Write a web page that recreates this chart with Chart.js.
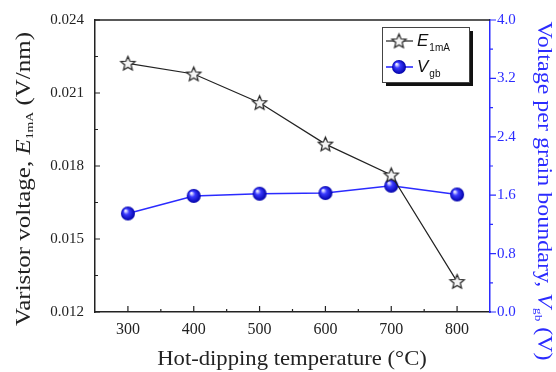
<!DOCTYPE html>
<html>
<head>
<meta charset="utf-8">
<script src="https://cdn.jsdelivr.net/npm/chart.js@4"></script>
<style>
  html, body { margin: 0; padding: 0; background: #fff; }
  #wrap { width: 556px; height: 372px; }
</style>
</head>
<body>
<div id="wrap"><canvas id="myChart" width="556" height="372"></canvas></div>
<script>
// data
const temps = [300, 400, 500, 600, 700, 800];
const e1mA = [0.02222, 0.02178, 0.0206, 0.0189, 0.01763, 0.01325];
const vgb = [1.35, 1.59, 1.62, 1.63, 1.73, 1.61];
const legendMain = ["E", "V"];
const legendSub = ["1mA", "gb"];

const BLUE = "#2b2bff";
const DARK = "#222";
const SERIF = "'Liberation Serif', 'Times New Roman', serif";
const SANS = "'Liberation Sans', Arial, sans-serif";

function makeStar(r) {
    const c = document.createElement("canvas");
    const s = Math.ceil(r * 2 + 4);
    c.width = s; c.height = s;
    const g = c.getContext("2d");
    g.translate(s / 2, s / 2 + 0.5);
    g.beginPath();
    for (let i = 0; i < 10; i++) {
        const rad = i % 2 === 0 ? r : r * 0.45;
        const a = -Math.PI / 2 + i * Math.PI / 5;
        g.lineTo(Math.cos(a) * rad, Math.sin(a) * rad);
    }
    g.closePath();
    g.fillStyle = "#f4f4f4";
    g.fill();
    g.lineWidth = 1.2;
    g.strokeStyle = DARK;
    g.stroke();
    return c;
}

function makeBall(r) {
    const c = document.createElement("canvas");
    const s = Math.ceil(r * 2 + 2);
    c.width = s; c.height = s;
    const g = c.getContext("2d");
    const cx = s / 2, cy = s / 2;
    const grad = g.createRadialGradient(cx - r * 0.35, cy - r * 0.4, r * 0.1, cx, cy, r);
    grad.addColorStop(0, "#e8e8ff");
    grad.addColorStop(0.35, "#3a3aff");
    grad.addColorStop(1, "#0000a8");
    g.beginPath();
    g.arc(cx, cy, r, 0, Math.PI * 2);
    g.fillStyle = grad;
    g.fill();
    return c;
}

const starImg = makeStar(7.5);
const ballImg = makeBall(7);

// draws text pieces in a row, centred on (0,0) of the current transform
function drawRich(g, parts, stretch) {
    g.scale(stretch || 1, 1);
    let total = 0;
    parts.forEach((p) => { g.font = p.font; p.w = g.measureText(p.t).width; total += p.w; });
    let x = -total / 2;
    parts.forEach((p) => {
        g.font = p.font;
        g.fillText(p.t, x, p.dy || 0);
        x += p.w;
    });
}

const decorPlugin = {
    id: "decor",
    afterDraw(chart) {
        const g = chart.ctx;
        const a = chart.chartArea;
        const xs = chart.scales.x, ys = chart.scales.y, y1 = chart.scales.y1;
        g.save();
        g.lineWidth = 1.5;
        // top border
        g.strokeStyle = DARK;
        g.beginPath();
        g.moveTo(a.left, a.top); g.lineTo(a.right, a.top);
        g.stroke();

        // tick marks
        g.lineWidth = 1.2;
        g.beginPath();
        for (let v = 300; v <= 800; v += 100) {
            const px = xs.getPixelForValue(v);
            g.moveTo(px, a.bottom); g.lineTo(px, a.bottom - 6);
        }
        for (let v = 350; v <= 750; v += 100) {
            const px = xs.getPixelForValue(v);
            g.moveTo(px, a.bottom); g.lineTo(px, a.bottom - 3);
        }
        for (let v = 0.012; v <= 0.0241; v += 0.003) {
            const py = ys.getPixelForValue(v);
            g.moveTo(a.left, py); g.lineTo(a.left + 5, py);
        }
        for (let v = 0.0135; v < 0.024; v += 0.003) {
            const py = ys.getPixelForValue(v);
            g.moveTo(a.left, py); g.lineTo(a.left + 3, py);
        }
        g.stroke();
        g.strokeStyle = BLUE;
        g.beginPath();
        for (let v = 0; v <= 4.01; v += 0.8) {
            const py = y1.getPixelForValue(v);
            g.moveTo(a.right, py); g.lineTo(a.right + 6, py);
        }
        for (let v = 0.4; v < 4; v += 0.8) {
            const py = y1.getPixelForValue(v);
            g.moveTo(a.right, py); g.lineTo(a.right + 3, py);
        }
        g.stroke();

        // axis titles
        g.textBaseline = "middle";
        g.fillStyle = DARK;
        g.save();
        g.translate(292, 359);
        drawRich(g, [{ t: "Hot-dipping temperature (°C)", font: "22px " + SERIF }], 1.03);
        g.restore();

        g.save();
        g.translate(25, 179);
        g.rotate(-Math.PI / 2);
        drawRich(g, [
            { t: "Varistor voltage, ", font: "20px " + SERIF },
            { t: "E", font: "italic 20px " + SERIF },
            { t: "1mA", font: "11px " + SERIF, dy: 5 },
            { t: " (V/nm)", font: "20px " + SERIF },
        ], 1.25);
        g.restore();

        g.fillStyle = BLUE;
        g.save();
        g.translate(543, 191);
        g.rotate(Math.PI / 2);
        drawRich(g, [
            { t: "Voltage per grain boundary, ", font: "20px " + SERIF },
            { t: "V", font: "italic 20px " + SERIF },
            { t: "gb", font: "11px " + SERIF, dy: 5 },
            { t: " (V)", font: "20px " + SERIF },
        ], 1.2);
        g.restore();

        // legend box with shadow
        const lx = 382, ly = 27, lw = 87, lh = 55;
        g.fillStyle = "#111";
        g.fillRect(lx + 4, ly + 4, lw, lh);
        g.fillStyle = "#fff";
        g.fillRect(lx, ly, lw, lh);
        g.strokeStyle = "#444";
        g.lineWidth = 1;
        g.strokeRect(lx + 0.5, ly + 0.5, lw, lh);

        const rows = [ly + 14, ly + 40];
        const imgs = [starImg, ballImg];
        chart.data.datasets.forEach((ds, i) => {
            const yy = rows[i];
            g.strokeStyle = ds.borderColor;
            g.lineWidth = ds.borderWidth;
            g.beginPath();
            g.moveTo(lx + 4, yy); g.lineTo(lx + 31, yy);
            g.stroke();
            const im = imgs[i];
            g.drawImage(im, lx + 17 - im.width / 2, yy - im.height / 2);
            g.fillStyle = "#111";
            g.textBaseline = "middle";
            g.font = "italic 17px " + SANS;
            g.fillText(legendMain[i], lx + 35, yy);
            const w = g.measureText(legendMain[i]).width;
            g.font = "10px " + SANS;
            g.fillText(legendSub[i], lx + 35 + w + 1, yy + 7);
        });
        g.restore();
    },
};

new Chart(document.getElementById("myChart"), {
    type: "line",
    data: {
        labels: temps,
        datasets: [
            {
                label: "E1mA",
                data: temps.map((t, i) => ({ x: t, y: e1mA[i] })),
                yAxisID: "y",
                borderColor: DARK,
                borderWidth: 1.2,
                pointStyle: starImg,
                order: 1,
            },
            {
                label: "Vgb",
                data: temps.map((t, i) => ({ x: t, y: vgb[i] })),
                yAxisID: "y1",
                borderColor: BLUE,
                borderWidth: 1.6,
                pointStyle: ballImg,
                order: 2,
            },
        ],
    },
    options: {
        responsive: false,
        animation: false,
        layout: { padding: { top: 20, left: 0, right: 0, bottom: 0 } },
        plugins: {
            legend: { display: false },
            tooltip: { enabled: false },
        },
        scales: {
            x: {
                type: "linear",
                min: 250,
                max: 850,
                afterFit: (s) => { s.height = 60; },
                afterBuildTicks: (s) => { s.ticks = temps.map((v) => ({ value: v })); },
                grid: { display: false, drawTicks: false },
                border: { color: DARK, width: 1.5 },
                ticks: { padding: 8, color: DARK, font: { family: SERIF, size: 16 } },
            },
            y: {
                position: "left",
                min: 0.012,
                max: 0.024,
                afterFit: (s) => { s.width = 95; },
                grid: { display: false, drawTicks: false },
                border: { color: DARK, width: 1.5 },
                ticks: {
                    stepSize: 0.003,
                    padding: 11,
                    color: DARK,
                    font: { family: SERIF, size: 15 },
                    callback: (v) => v.toFixed(3),
                },
            },
            y1: {
                position: "right",
                min: 0,
                max: 4,
                afterFit: (s) => { s.width = 66; },
                grid: { display: false, drawTicks: false },
                border: { color: BLUE, width: 1.5 },
                ticks: {
                    stepSize: 0.8,
                    padding: 7,
                    color: BLUE,
                    font: { family: SERIF, size: 15 },
                    callback: (v) => v.toFixed(1),
                },
            },
        },
    },
    plugins: [decorPlugin],
});
</script>
</body>
</html>
